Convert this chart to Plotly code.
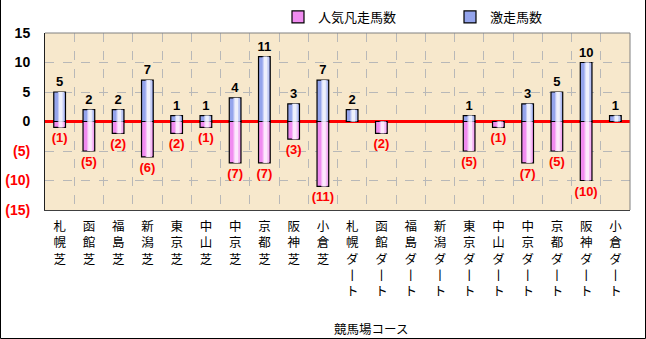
import plotly.graph_objects as go

categories = ["札幌芝", "函館芝", "福島芝", "新潟芝", "東京芝", "中山芝", "中京芝", "京都芝", "阪神芝", "小倉芝",
              "札幌ダート", "函館ダート", "福島ダート", "新潟ダート", "東京ダート", "中山ダート", "中京ダート",
              "京都ダート", "阪神ダート", "小倉ダート"]
gekisou = [5, 2, 2, 7, 1, 1, 4, 11, 3, 7, 2, 0, 0, 0, 1, 0, 3, 5, 10, 1]
bonsou = [1, 5, 2, 6, 2, 1, 7, 7, 3, 11, 0, 2, 0, 0, 5, 1, 7, 5, 10, 0]
y_tickvals = [15, 10, 5, 0, -5, -10, -15]

x = list(range(len(categories)))
pos = [v if v else None for v in gekisou]
neg = [-v if v else None for v in bonsou]
ticktext = ["<br>".join(ch if ch != "ー" else "丨" for ch in c) for c in categories]
pos_text = [str(v) if v else "" for v in gekisou]
neg_text = [f"({v})" if v else "" for v in bonsou]

def ylab(v):
    if v < 0:
        return f'<span style="color:#ff0000">({-v})</span>'
    return str(v)

W = 0.40
fig = go.Figure()
fig.add_trace(go.Bar(x=x, y=neg, name="人気凡走馬数", width=W,
                     marker=dict(color="#f08cf0", line=dict(color="#000000", width=1.2)),
                     text=neg_text, textposition="outside", cliponaxis=False, constraintext="none",
                     textfont=dict(color="#ff0000", size=13, family="Liberation Sans", weight="bold"),
                     showlegend=True))
fig.add_trace(go.Bar(x=x, y=pos, name="激走馬数", width=W,
                     marker=dict(color="#94a4ec", line=dict(color="#000000", width=1.2)),
                     text=pos_text, textposition="outside", cliponaxis=False, constraintext="none",
                     textfont=dict(color="#000000", size=13, family="Liberation Sans", weight="bold"),
                     showlegend=True))
for w, off, cb, cp in [(0.22, -0.06, "#c4ccf6", "#f6bcf6"), (0.12, -0.02, "#eef0fc", "#fce8fc")]:
    fig.add_trace(go.Bar(x=x, y=neg, width=w, offset=off, marker=dict(color=cp, line=dict(width=0)),
                         showlegend=False, hoverinfo="skip"))
    fig.add_trace(go.Bar(x=x, y=pos, width=w, offset=off, marker=dict(color=cb, line=dict(width=0)),
                         showlegend=False, hoverinfo="skip"))

L, R, T, B = 45, 16, 33, 129
pw = 646 - L - R
ph = 339 - T - B

fig.update_layout(
    width=646, height=339,
    margin=dict(l=L, r=R, t=T, b=B, pad=0, autoexpand=False),
    barmode="overlay",
    paper_bgcolor="#ffffff",
    plot_bgcolor="#f7e8cc",
    font=dict(family="Liberation Sans, Noto Sans CJK JP", size=13, color="#000000"),
    showlegend=True,
    legend=dict(orientation="h", x=(278 - L) / pw, xanchor="left", y=(339 - 17) / 339, yref="container",
                yanchor="middle", font=dict(family="Noto Sans CJK JP", size=13), itemwidth=30,
                bgcolor="rgba(0,0,0,0)", traceorder="normal", entrywidth=127, tracegroupgap=0),
    xaxis=dict(range=[-0.5, len(categories) - 0.5], tickmode="array", tickvals=x, ticktext=ticktext,
               automargin=False, ticklabelstandoff=5,
               showgrid=False, zeroline=False, ticks="", showline=True, linecolor="#404040", mirror=False,
               tickfont=dict(family="Liberation Sans, Noto Sans CJK JP", size=12.5, color="#000000"),
               minor=dict(tickvals=[i + 0.5 for i in x[:-1]], showgrid=True, gridcolor="#b8b8b8",
                          griddash="dash", gridwidth=1, ticks="")),
    yaxis=dict(range=[-15, 15], tickmode="array", tickvals=y_tickvals,
               ticktext=[ylab(v) for v in y_tickvals], automargin=False,
               showgrid=True, gridcolor="#b8b8b8", griddash="dash", gridwidth=1,
               zeroline=True, zerolinecolor="#ff0000", zerolinewidth=2.5,
               showline=True, linecolor="#202020", ticks="", ticklabelstandoff=11,
               tickfont=dict(family="Liberation Sans", size=14, color="#000000", weight="bold")),
    annotations=[dict(text="競馬場コース", xref="paper", yref="paper", x=(371 - L) / pw, y=-(328 - T - ph) / ph,
                      showarrow=False, font=dict(family="Noto Sans CJK JP", size=12.5, color="#000000"),
                      xanchor="center", yanchor="middle")],
    shapes=[
        dict(type="line", xref="paper", yref="paper", x0=1, x1=1, y0=0, y1=1,
             line=dict(color="#808080", width=1)),
        dict(type="line", xref="paper", yref="paper", x0=0, x1=1, y0=1, y1=1,
             line=dict(color="#808080", width=1)),
        dict(type="rect", xref="paper", yref="paper",
             x0=-(L - 0.5) / pw, x1=(646 - L - 0.5) / pw,
             y0=-(B - 0.5) / ph, y1=(339 - T - 0.5) / ph,
             line=dict(color="#000000", width=1)),
    ],
)
fig.write_html("out.html")
